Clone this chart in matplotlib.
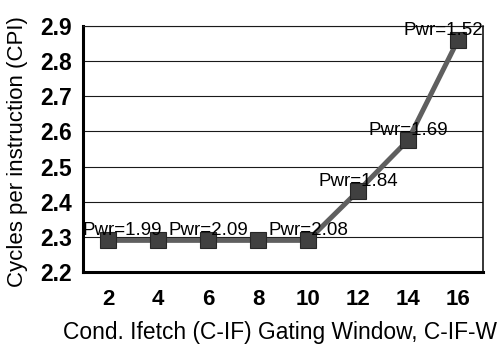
import matplotlib
matplotlib.use("Agg")
from matplotlib import pyplot as plt

plt.rcParams['font.family'] = ['Liberation Sans', 'DejaVu Sans']

# gating window sizes and the measured CPI at each one
windows = ['2', '4', '6', '8', '10', '12', '14', '16']
cpi = [2.29, 2.29, 2.29, 2.29, 2.29, 2.43, 2.575, 2.86]
power = ['Pwr=1.99', None, 'Pwr=2.09', None, 'Pwr=2.08', 'Pwr=1.84', 'Pwr=1.69', 'Pwr=1.52']
yticks = [2.2, 2.3, 2.4, 2.5, 2.6, 2.7, 2.8, 2.9]

fig = plt.figure(figsize=(5.01, 3.44), dpi=100)
ax = fig.add_axes([83 / 501, 72 / 344, 400 / 501, 246 / 344])

xs = list(range(len(windows)))
ax.plot(xs, cpi, '-', color='#5f5f5f', linewidth=3.6, zorder=3,
        marker='s', markersize=11.5, markerfacecolor='#404040',
        markeredgecolor='#262626', markeredgewidth=0.8)

# power labels sit just above each point; the end ones are kept inside the frame
for i, (x, y, txt) in enumerate(zip(xs, cpi, power)):
    if txt is None:
        continue
    if i == 0:
        ax.annotate(txt, (-0.5, y), xytext=(0, 4), textcoords='offset points',
                    ha='left', va='baseline', fontsize=13.5, zorder=4)
    elif i == len(xs) - 1:
        ax.annotate(txt, (7.5, y), xytext=(0, 4), textcoords='offset points',
                    ha='right', va='baseline', fontsize=13.5, zorder=4)
    else:
        ax.annotate(txt, (x, y), xytext=(0, 4), textcoords='offset points',
                    ha='center', va='baseline', fontsize=13.5, zorder=4)

ax.set_xlim(-0.5, len(windows) - 0.5)
ax.set_ylim(2.2, 2.9)
ax.set_xticks(xs)
ax.set_xticklabels(windows, fontsize=16, fontweight='bold')
ax.set_yticks(yticks)
ax.set_yticklabels(['%.1f' % v for v in yticks], fontsize=16.5, fontweight='bold')
ax.tick_params(axis='both', length=0)
ax.tick_params(axis='x', pad=12)
ax.tick_params(axis='y', pad=8)

ax.grid(axis='y', color='#1a1a1a', linewidth=0.8)
ax.set_axisbelow(True)
ax.spines['left'].set_linewidth(2.2)
ax.spines['bottom'].set_linewidth(2.2)
ax.spines['right'].set_linewidth(1.1)
ax.spines['top'].set_linewidth(0.8)
ax.spines['top'].set_color('#1a1a1a')

ax.set_ylabel('Cycles per instruction (CPI)', fontsize=16)
ax.yaxis.set_label_coords(-0.1375, 0.49)
ax.set_xlabel('Cond. Ifetch (C-IF) Gating Window, C-IF-W', fontsize=16.4, ha='left', va='center')
ax.xaxis.set_label_coords(-0.05, -0.244)

fig.savefig('out.png', dpi=100)
